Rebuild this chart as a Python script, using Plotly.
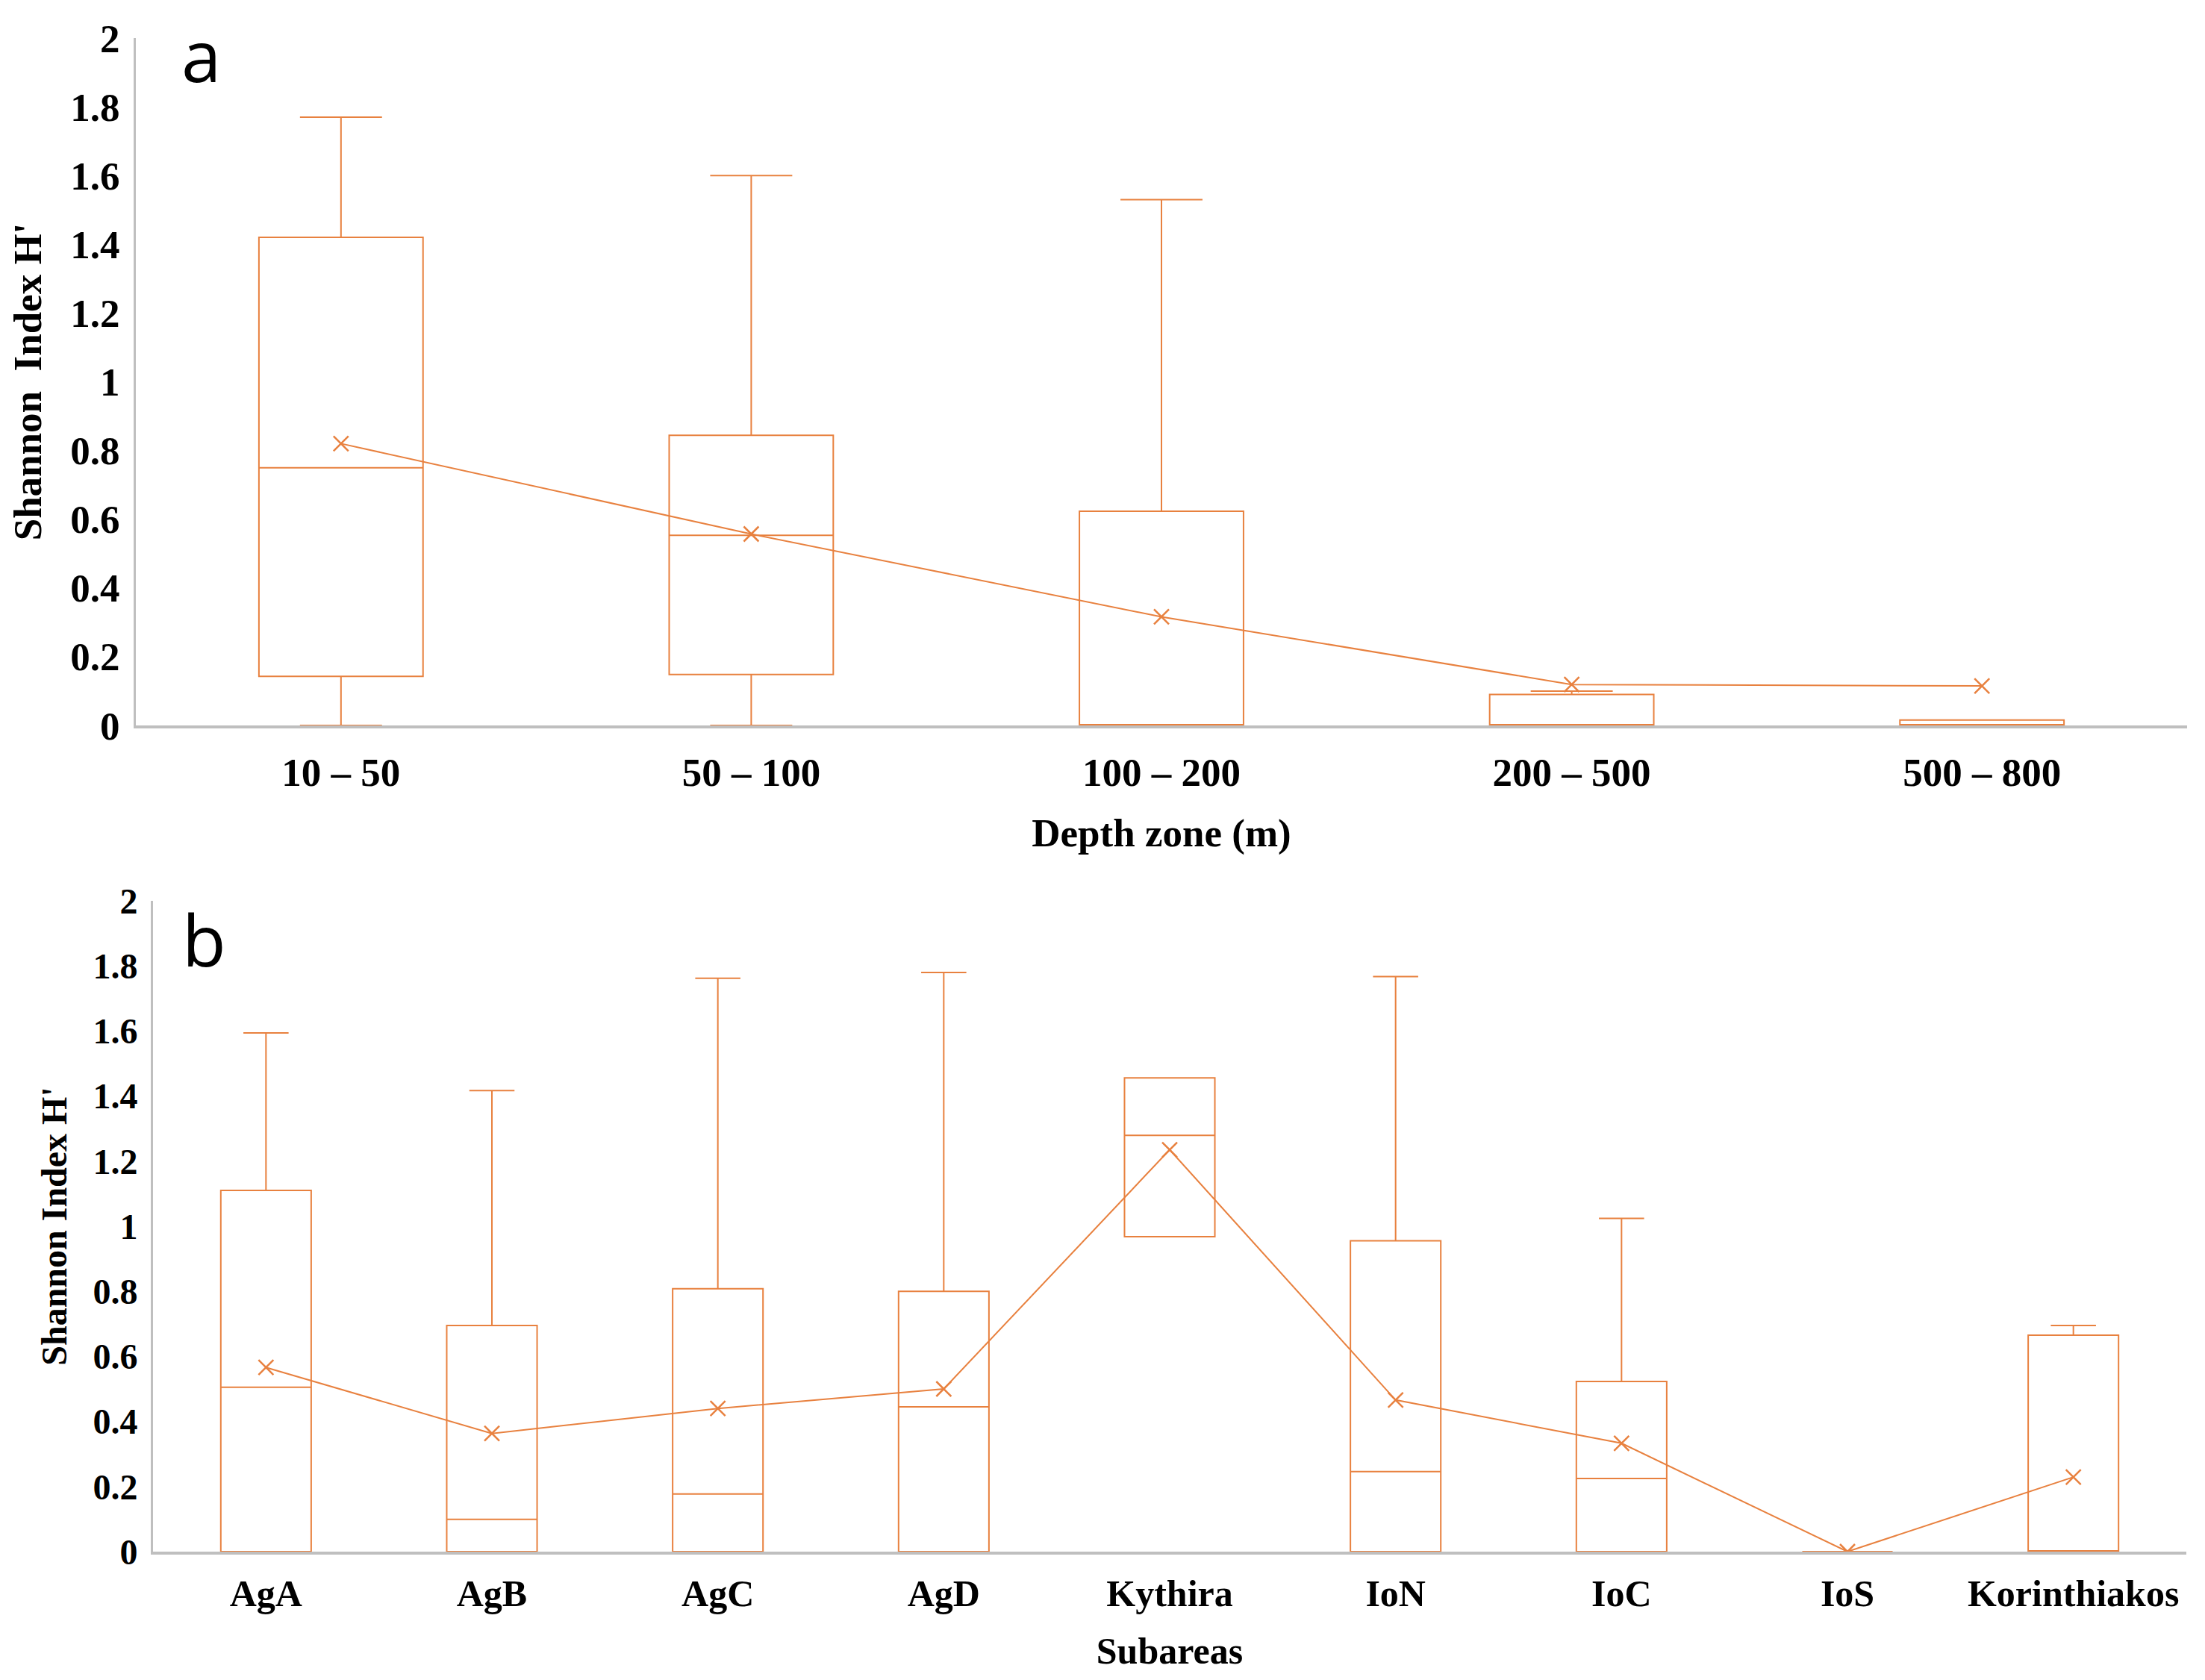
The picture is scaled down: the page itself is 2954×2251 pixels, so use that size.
import plotly.graph_objects as go

# ---------------- Data ----------------
depth_zones = ["10 – 50", "50 – 100", "100 – 200", "200 – 500", "500 – 800"]
depth_lower = [0.0, 0.0, 0.0, 0.0, 0.0]
depth_q1 = [0.143, 0.148, 0.0, 0.0, 0.0]
depth_median = [0.75, 0.553, 0.0, 0.0, 0.0]
depth_q3 = [1.42, 0.844, 0.623, 0.09, 0.016]
depth_upper = [1.77, 1.60, 1.53, 0.10, 0.016]
depth_mean = [0.82, 0.557, 0.316, 0.119, 0.115]

subareas = ["AgA", "AgB", "AgC", "AgD", "Kythira", "IoN", "IoC", "IoS", "Korinthiakos"]
sub_lower = [0.0, 0.0, 0.0, 0.0, 0.968, 0.0, 0.0, 0.0, 0.0]
sub_q1 = [0.0, 0.0, 0.0, 0.0, 0.968, 0.0, 0.0, 0.0, 0.0]
sub_median = [0.505, 0.099, 0.177, 0.445, 1.279, 0.246, 0.225, 0.0, 0.0]
sub_q3 = [1.11, 0.695, 0.808, 0.80, 1.456, 0.955, 0.523, 0.0, 0.665]
sub_upper = [1.594, 1.417, 1.762, 1.78, 1.456, 1.767, 1.024, 0.0, 0.695]
sub_mean = [0.566, 0.363, 0.44, 0.50, 1.235, 0.466, 0.333, 0.0, 0.229]

y_tickvals = [0, 0.2, 0.4, 0.6, 0.8, 1, 1.2, 1.4, 1.6, 1.8, 2]
y_ticktext = ["0", "0.2", "0.4", "0.6", "0.8", "1", "1.2", "1.4", "1.6", "1.8", "2"]

# ---------------- Style ----------------
W, H = 2954, 2251
ORANGE = "#E8813F"
AXIS_GRAY = "#BFBFBF"
SERIF = "Liberation Serif"

fig = go.Figure()

def add_panel(cats, lo, q1, med, q3, up, mean, xa, ya):
    fig.add_trace(go.Box(
        x=cats, q1=q1, median=med, q3=q3, lowerfence=lo, upperfence=up,
        boxpoints=False, width=0.4, whiskerwidth=0.5,
        fillcolor="white", line=dict(color=ORANGE, width=2),
        xaxis=xa, yaxis=ya, showlegend=False, hoverinfo="skip"))
    fig.add_trace(go.Scatter(
        x=cats, y=mean, mode="lines+markers",
        line=dict(color=ORANGE, width=2),
        marker=dict(symbol="x-thin", size=20, line=dict(color=ORANGE, width=2.5)),
        xaxis=xa, yaxis=ya, showlegend=False, hoverinfo="skip"))

add_panel(depth_zones, depth_lower, depth_q1, depth_median, depth_q3, depth_upper, depth_mean, "x", "y")
add_panel(subareas, sub_lower, sub_q1, sub_median, sub_q3, sub_upper, sub_mean, "x2", "y2")

def sfont(size):
    return dict(family=SERIF, size=size, color="black", weight="bold")

def xaxis_cfg(domain, anchor, title, n, size, lstand, tstand):
    return dict(domain=domain, anchor=anchor, type="category", automargin=False,
                range=[-0.5, n - 0.5], showgrid=False, zeroline=False,
                showline=True, linecolor=AXIS_GRAY, linewidth=4,
                ticks="", tickfont=sfont(size), ticklabelstandoff=lstand,
                title=dict(text=title, font=sfont(size), standoff=tstand))

def yaxis_cfg(domain, anchor, title, size, tstand):
    return dict(domain=domain, anchor=anchor, range=[0, 2], automargin=False,
                tickvals=y_tickvals, ticktext=y_ticktext,
                showgrid=False, zeroline=False,
                showline=True, linecolor=AXIS_GRAY, linewidth=3,
                ticks="", tickfont=sfont(size), ticklabelstandoff=8,
                title=dict(text=title, font=sfont(size), standoff=tstand))

fig.update_layout(
    width=W, height=H,
    margin=dict(l=0, r=0, t=0, b=0),
    paper_bgcolor="white", plot_bgcolor="white",
    xaxis=xaxis_cfg([174 / W, 2922 / W], "y", "Depth zone (m)", len(depth_zones), 53, 13, 35),
    yaxis=yaxis_cfg([1 - 964 / H, 1 - 43 / H], "x", "Shannon  Index H'", 53, 22),
    xaxis2=xaxis_cfg([197 / W, 2921 / W], "y2", "Subareas", len(subareas), 50, 9, 33),
    yaxis2=yaxis_cfg([1 - 2071 / H, 1 - 1199 / H], "x2", "Shannon Index H'", 48, 20),
)

fig.add_annotation(text="a", xref="paper", yref="paper", x=233 / W, y=1 - 65 / H,
                   xanchor="left", yanchor="middle", showarrow=False,
                   font=dict(family="Open Sans", size=96, color="black"))
fig.add_annotation(text="b", xref="paper", yref="paper", x=234 / W, y=1 - 1249 / H,
                   xanchor="left", yanchor="middle", showarrow=False,
                   font=dict(family="Open Sans", size=96, color="black"))

fig.write_html("out.html")
